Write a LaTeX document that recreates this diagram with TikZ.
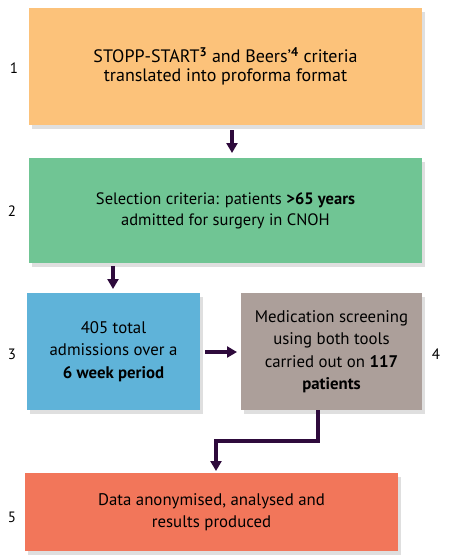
\documentclass[tikz,border=0pt]{standalone}
\usepackage{fontspec}
\setmainfont{PT Sans}
\usetikzlibrary{shadows,arrows.meta}
\definecolor{c1}{HTML}{FCC27A}
\definecolor{c2}{HTML}{70C594}
\definecolor{c3}{HTML}{5FB3D9}
\definecolor{c4}{HTML}{AC9F9A}
\definecolor{c5}{HTML}{F2765A}
\definecolor{arr}{HTML}{2E0A3C}
\tikzset{
  box/.style={inner sep=0pt, align=center, font=\fontsize{16.8}{22.5}\selectfont, text=black,
    drop shadow={opacity=0.25, shadow xshift=3pt, shadow yshift=-4pt}},
  num/.style={font=\fontsize{15}{17}\selectfont},
  conn/.style={draw=arr, line width=3.6pt, -{Triangle[length=10pt,width=11pt]}}
}
\begin{document}
\begin{tikzpicture}[x=1pt,y=-1pt]
\useasboundingbox (0,0) rectangle (450,557);
\node[box, fill=c1, minimum width=393pt, minimum height=117pt, font=\fontsize{18}{19}\selectfont] (b1) at (225.5,66.5)
  {STOPP-START\textsuperscript{\textbf{3}} and Beers'\textsuperscript{\textbf{4}} criteria\\translated into proforma format};
\node[box, fill=c2, minimum width=393pt, minimum height=105pt, font=\fontsize{16.5}{21}\selectfont] (b2) at (225.5,210.5)
  {Selection criteria: patients \textbf{>65 years}\\admitted for surgery in CNOH};
\node[box, fill=c3, minimum width=173pt, minimum height=117pt] (b3) at (113.5,351.5)
  {405 total\\admissions over a\\\textbf{6 week period}};
\node[box, fill=c4, minimum width=181pt, minimum height=117pt] (b4) at (331.5,351.5)
  {Medication screening\\using both tools\\carried out on \textbf{117}\\\textbf{patients}};
\node[box, fill=c5, minimum width=373pt, minimum height=78pt] (b5) at (211.5,512)
  {Data anonymised, analysed and\\results produced};
\node[num] (n1) at (14,68) {1};
\node[num] (n2) at (12,211) {2};
\node[num] (n3) at (12,354) {3};
\node[num] (n4) at (436,354) {4};
\node[num] (n5) at (12,517) {5};
\coordinate (a1s) at (232,130);
\coordinate (a1e) at (232,153);
\draw[conn] (a1s) -- (a1e);
\coordinate (a2s) at (113,266);
\coordinate (a2e) at (113,289);
\draw[conn] (a2s) -- (a2e);
\coordinate (a3s) at (205,352);
\coordinate (a3e) at (237,352);
\draw[conn] (a3s) -- (a3e);
\coordinate (a4s) at (318,410);
\coordinate (a4m) at (318,441);
\coordinate (a4n) at (216,441);
\coordinate (a4e) at (216,471);
\draw[conn] (a4s) -- (a4m) -- (a4n) -- (a4e);
\end{tikzpicture}
\end{document}
